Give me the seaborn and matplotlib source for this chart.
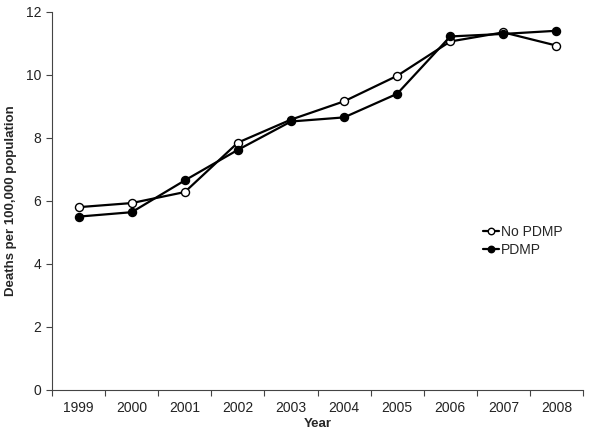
import matplotlib.pyplot as plt
import pandas as pd
import seaborn as sns

years = ["1999", "2000", "2001", "2002", "2003", "2004", "2005", "2006", "2007", "2008"]
no_pdmp = [5.80, 5.93, 6.28, 7.85, 8.58, 9.16, 9.97, 11.06, 11.35, 10.93]
pdmp = [5.50, 5.64, 6.65, 7.62, 8.52, 8.65, 9.40, 11.22, 11.30, 11.40]

sns.set_style("white")
plt.rcParams["font.family"] = ["Liberation Sans", "DejaVu Sans"]

df = pd.DataFrame({
    "pos": list(range(len(years))) * 2,
    "rate": no_pdmp + pdmp,
    "group": ["No PDMP"] * len(years) + ["PDMP"] * len(years),
})

fig = plt.figure(figsize=(6.06, 4.40), dpi=100)
ax = fig.add_axes([0.086, 0.114, 0.876, 0.859])

for name, face in [("No PDMP", "white"), ("PDMP", "black")]:
    sub = df[df["group"] == name]
    sns.lineplot(data=sub, x="pos", y="rate", ax=ax, color="black", linewidth=1.6,
                 marker="o", markersize=5.8, markerfacecolor=face, markeredgecolor="black",
                 markeredgewidth=1.0, label=name)

ax.set_xlim(-0.5, len(years) - 0.5)
ax.set_ylim(0, 12)
ax.set_yticks(range(0, 13, 2))
ax.set_xticks([i - 0.5 for i in range(len(years) + 1)])
ax.set_xticklabels([])
ax.set_xticks(range(len(years)), minor=True)
ax.set_xticklabels(years, minor=True)
ax.tick_params(axis="x", which="major", direction="out", length=4, width=0.8, color="#444444", bottom=True)
ax.tick_params(axis="x", which="minor", length=0, labelsize=10, pad=8, colors="#222222", bottom=True)
ax.tick_params(axis="y", direction="out", length=4, width=0.8, labelsize=10, color="#444444",
               labelcolor="#222222", left=True, pad=4)

for side in ["top", "right"]:
    ax.spines[side].set_visible(False)
for side in ["left", "bottom"]:
    ax.spines[side].set_color("#444444")
    ax.spines[side].set_linewidth(0.8)

ax.set_xlabel("Year", fontsize=9.5, fontweight="bold", labelpad=2)
ax.set_ylabel("Deaths per 100,000 population", fontsize=9.5, fontweight="bold", labelpad=6)

leg = ax.legend(loc="upper left", bbox_to_anchor=(0.785, 0.505), bbox_transform=fig.transFigure,
                frameon=False, fontsize=10, handlelength=1.2, handletextpad=0.1, labelspacing=0.3,
                borderpad=0, markerscale=0.8)

fig.savefig("out.png", dpi=100)
